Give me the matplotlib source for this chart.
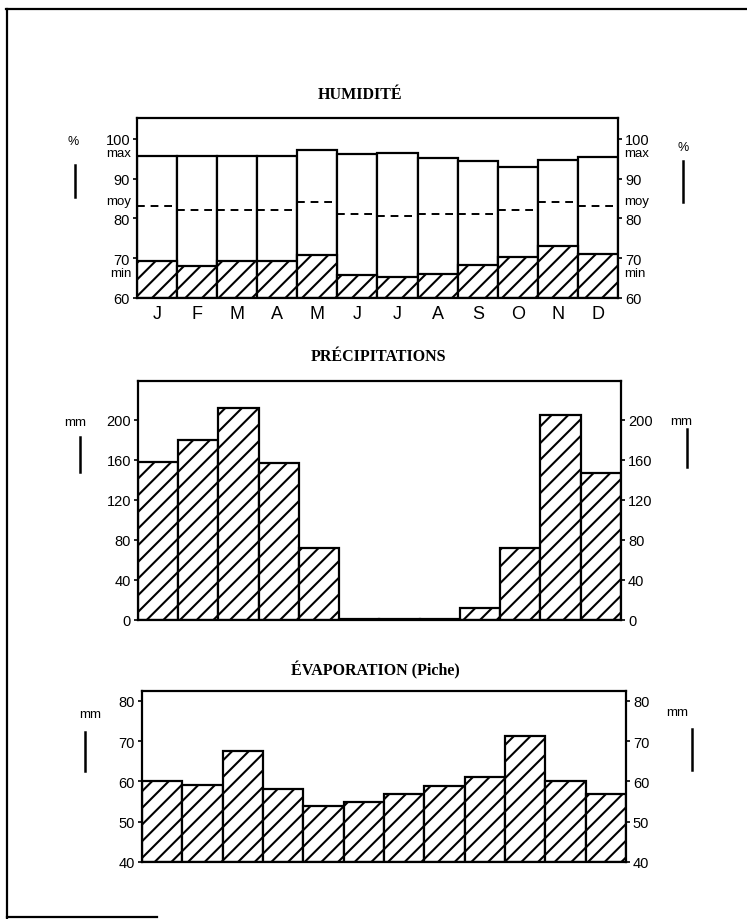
import numpy as np
import matplotlib
matplotlib.use("Agg")
from matplotlib import pyplot as plt
from matplotlib.lines import Line2D
import matplotlib.transforms as mtrans

# données
mois = ['J', 'F', 'M', 'A', 'M', 'J', 'J', 'A', 'S', 'O', 'N', 'D']
hum_max = [95.7, 95.7, 95.7, 95.6, 97.2, 96.2, 96.4, 95.2, 94.3, 93.0, 94.7, 95.5]
hum_moy = [83.0, 82.0, 82.0, 82.0, 84.2, 81.2, 80.7, 81.2, 81.2, 82.0, 84.0, 83.0]
hum_min = [69.2, 68.0, 69.2, 69.2, 70.7, 65.7, 65.2, 66.0, 68.2, 70.2, 73.0, 71.0]
precip = [158, 180, 212, 157, 72, 1, 1, 1, 12, 72, 205, 147]
evap = [60.2, 59.2, 67.5, 58.2, 54.0, 54.8, 57.0, 59.0, 61.2, 71.2, 60.2, 56.8]

plt.rcParams['font.family'] = ['Liberation Sans', 'DejaVu Sans']
plt.rcParams['hatch.linewidth'] = 1.5
plt.rcParams['hatch.color'] = 'black'

fig = plt.figure(figsize=(7.47, 9.2), dpi=100)
x = np.arange(12)
lw = 1.6
hach = '//'


def cadre(ax, ylim, ticks):
    ax.set_xlim(-0.5, 11.5)
    ax.set_ylim(*ylim)
    for s in ax.spines.values():
        s.set_linewidth(lw)
    ax.set_yticks(ticks)
    ax.set_yticklabels([str(t) for t in ticks])
    ax.tick_params(axis='y', left=True, right=True, labelleft=True, labelright=True,
                   direction='out', length=3, width=1.2, pad=2, labelsize=10.5)


def titre(xp, y, txt):
    fig.text(xp / 747, 1 - y / 920, txt, ha='center', va='center', family='Liberation Serif',
             fontweight='bold', fontsize=11.5)


def unite(ax, txt, g, d, fs=9.5):
    # g, d : (x texte, y texte, y1 trait, y2 trait, x trait) en fraction des axes
    for (xt, yt, y1, y2, xl) in (g, d):
        ax.text(xt, yt, txt, transform=ax.transAxes, ha='center', va='center', fontsize=fs)
        ax.plot([xl, xl], [y1, y2], transform=ax.transAxes, color='black', lw=1.8, clip_on=False)


# ---- humidité
ax1 = fig.add_axes([0.1834, 0.675, 0.6439, 0.1957])
hmax = np.array(hum_max)
hmin = np.array(hum_min)
ax1.bar(x, hmax - 60, bottom=60, width=1, facecolor='white', edgecolor='black', linewidth=lw)
ax1.bar(x, hmin - 60, bottom=60, width=1, facecolor='white', edgecolor='black', linewidth=lw, hatch=hach)
ax1.hlines(hum_moy, x - 0.5, x + 0.5, colors='black', linestyles=(0, (4, 3)), linewidth=1.4)
cadre(ax1, (60, 105.2), [60, 70, 80, 90, 100])
ax1.set_xticks(x)
ax1.set_xticklabels(mois, fontsize=13)
ax1.tick_params(axis='x', length=0, pad=5)
tl = mtrans.blended_transform_factory(ax1.transAxes, ax1.transData)
for nom, v in [('max', 96.3), ('moy', 84.3), ('min', 66.3)]:
    ax1.text(-0.012, v, nom, transform=tl, ha='right', va='center', fontsize=9.5)
    ax1.text(1.012, v, nom, transform=tl, ha='left', va='center', fontsize=9.5)
unite(ax1, '%', (-0.133, 0.872, 0.739, 0.561, -0.129), (1.135, 0.839, 0.761, 0.533, 1.135), fs=9)
titre(360, 95, 'HUMIDITÉ')

# ---- précipitations
ax2 = fig.add_axes([0.1847, 0.325, 0.6466, 0.2598])
ax2.bar(x, precip, width=1, facecolor='white', edgecolor='black', linewidth=lw, hatch=hach)
cadre(ax2, (0, 239), [0, 40, 80, 120, 160, 200])
ax2.set_xticks([])
unite(ax2, 'mm', (-0.130, 0.828, 0.766, 0.619, -0.120), (1.124, 0.833, 0.799, 0.640, 1.137))
titre(378, 357, 'PRÉCIPITATIONS')

# ---- évaporation
ax3 = fig.add_axes([0.1901, 0.062, 0.6479, 0.1859])
ax3.bar(x, np.array(evap) - 40, bottom=40, width=1, facecolor='white', edgecolor='black',
        linewidth=lw, hatch=hach)
cadre(ax3, (40, 82.5), [40, 50, 60, 70, 80])
ax3.set_xticks([])
unite(ax3, 'mm', (-0.107, 0.865, 0.760, 0.532, -0.118), (1.105, 0.877, 0.778, 0.538, 1.136))
titre(375, 670, 'ÉVAPORATION (Piche)')

# ---- cadre de la page
fig.add_artist(Line2D([6 / 747, 1.0], [1 - 10 / 920, 1 - 10 / 920], color='black', lw=1.6))
fig.add_artist(Line2D([7 / 747, 7 / 747], [1 - 10 / 920, 1 - 919 / 920], color='black', lw=1.6))
fig.add_artist(Line2D([7 / 747, 157 / 747], [1 - 918 / 920, 1 - 918 / 920], color='black', lw=1.6))

fig.savefig('out.png', dpi=100, facecolor='white')
